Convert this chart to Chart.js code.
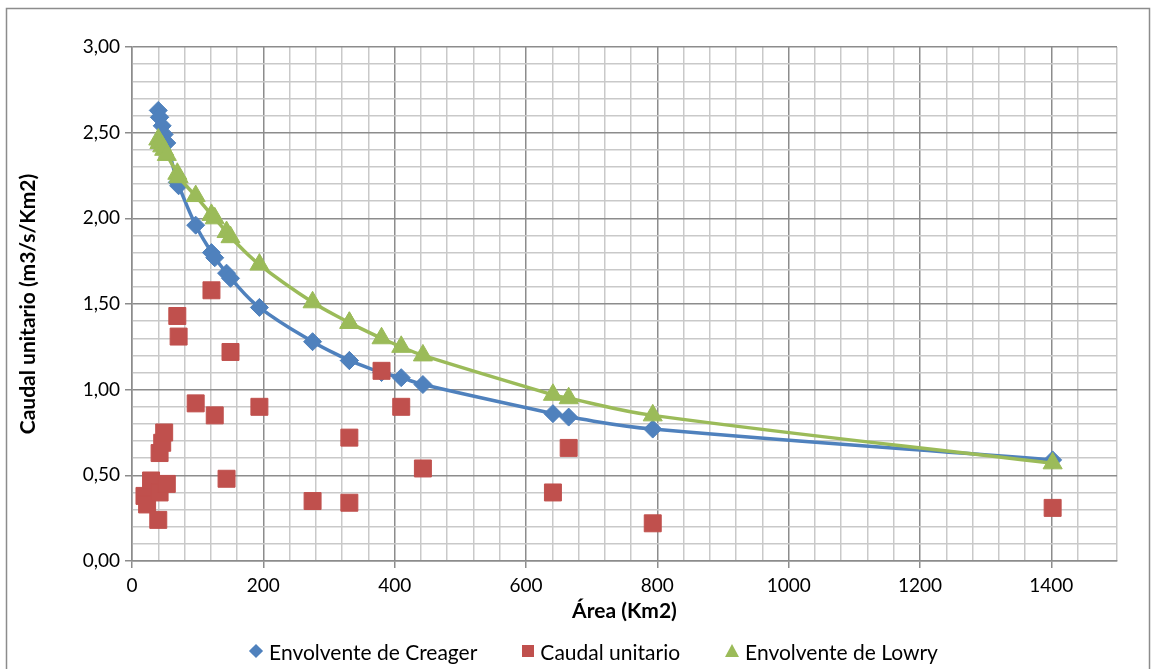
<!DOCTYPE html>
<html lang="es">
<head>
<meta charset="utf-8">
<title>Caudal unitario vs Área</title>
<script src="https://cdn.jsdelivr.net/npm/chart.js@4.4.1/dist/chart.umd.min.js"></script>
<style>
  html, body { margin: 0; padding: 0; background: #ffffff; }
  #marco { position: relative; width: 1157px; height: 669px; }
  #leyenda {
    position: absolute; left: 0; top: 639px; width: 1187px; height: 24px;
    display: flex; justify-content: center; align-items: center; gap: 45px;
    font-family: Lato, "Open Sans", sans-serif; font-size: 21px; color: #000;
  }
  .leyenda__elemento { display: flex; align-items: center; gap: 6px; white-space: nowrap; }
  .leyenda__diamante { width: 10px; height: 10px; transform: rotate(45deg); margin: 0 2px; }
  .leyenda__cuadro   { width: 12px; height: 12px; }
  .leyenda__triangulo {
    width: 0; height: 0; border-left: 7px solid transparent; border-right: 7px solid transparent;
    border-bottom: 13px solid; margin-top: -2px;
  }
</style>
</head>
<body>
<div id="marco">
  <canvas id="grafica" width="1157" height="669"></canvas>
  <div id="leyenda"></div>
</div>
<script>
/* ===== DATOS ===== */

// Cuencas: área (Km2) y caudal unitario observado (m3/s/Km2)
const AREAS_CUENCAS   = [19, 23, 29, 40, 42, 42, 46, 49, 53, 69, 71, 97, 121, 126, 144, 150, 194, 275, 331, 331, 380, 410, 443, 641, 665, 793, 1402];
const CAUDAL_UNITARIO = [0.38, 0.33, 0.47, 0.24, 0.63, 0.40, 0.69, 0.75, 0.45, 1.43, 1.31, 0.92, 1.58, 0.85, 0.48, 1.22, 0.90, 0.35, 0.34, 0.72, 1.11, 0.90, 0.54, 0.40, 0.66, 0.22, 0.31];

// Envolventes (las cuencas más pequeñas quedan fuera del gráfico)
const AREAS_ENVOLVENTES  = [40, 42, 42, 46, 49, 53, 69, 71, 97, 121, 126, 144, 150, 194, 275, 331, 331, 380, 410, 443, 641, 665, 793, 1402];
const ENVOLVENTE_CREAGER = [2.63, 2.59, 2.59, 2.54, 2.49, 2.44, 2.21, 2.19, 1.96, 1.80, 1.77, 1.68, 1.65, 1.48, 1.28, 1.17, 1.17, 1.10, 1.07, 1.03, 0.86, 0.84, 0.77, 0.59];
const ENVOLVENTE_LOWRY   = [2.46, 2.44, 2.44, 2.42, 2.40, 2.37, 2.26, 2.24, 2.13, 2.02, 2.00, 1.92, 1.89, 1.73, 1.51, 1.39, 1.39, 1.30, 1.25, 1.20, 0.97, 0.95, 0.85, 0.57];

// Etiquetas de los ejes (divisiones principales)
const ETIQUETAS_X = [0, 200, 400, 600, 800, 1000, 1200, 1400];
const ETIQUETAS_Y = [0, 0.5, 1, 1.5, 2, 2.5, 3];

/* ===== ESTILO ===== */

const COLOR_AZUL  = "#4F81BD";
const COLOR_ROJO  = "#C0504D";
const COLOR_VERDE = "#9BBB59";
const GRID_MAYOR  = "#8C8C8C";
const GRID_MENOR  = "#C9C9C9";
const FUENTE      = "Lato, 'Open Sans', sans-serif";

Chart.defaults.font.family = FUENTE;
Chart.defaults.color = "#000000";

function puntos(xs, ys) {
  return xs.map(function(x, i) { return { x: x, y: ys[i] }; });
}

function esMayorX(valor) {
  return ETIQUETAS_X.indexOf(Math.round(valor)) !== -1;
}

function esMayorY(valor) {
  return ETIQUETAS_Y.some(function(v) { return Math.abs(v - valor) < 1e-6; });
}

/* ===== BORDE EXTERIOR ===== */

const bordeExterior = {
  id: "bordeExterior",
  beforeDraw: function(chart) {
    const ctx = chart.ctx;
    ctx.save();
    ctx.fillStyle = "#ffffff";
    ctx.fillRect(0, 0, chart.width, chart.height);
    ctx.strokeStyle = "#8C8C8C";
    ctx.lineWidth = 1.5;
    ctx.strokeRect(6.5, 8.5, 1143, 700);
    ctx.restore();
  },
};

/* ===== GRÁFICA ===== */

const grafica = new Chart(document.getElementById("grafica"), {
  type: "scatter",
  data: {
    datasets: [
      {
        label: "Envolvente de Creager",
        data: puntos(AREAS_ENVOLVENTES, ENVOLVENTE_CREAGER),
        showLine: true,
        tension: 0.4,
        borderColor: COLOR_AZUL,
        backgroundColor: COLOR_AZUL,
        borderWidth: 3.5,
        pointStyle: "rectRot",
        pointRadius: 9,
        pointBorderWidth: 1,
        order: 3,
      },
      {
        label: "Caudal unitario",
        data: puntos(AREAS_CUENCAS, CAUDAL_UNITARIO),
        borderColor: COLOR_ROJO,
        backgroundColor: COLOR_ROJO,
        pointStyle: "rect",
        pointRadius: 12,
        pointBorderWidth: 1,
        order: 2,
      },
      {
        label: "Envolvente de Lowry",
        data: puntos(AREAS_ENVOLVENTES, ENVOLVENTE_LOWRY),
        showLine: true,
        tension: 0.4,
        borderColor: COLOR_VERDE,
        backgroundColor: COLOR_VERDE,
        borderWidth: 3.5,
        pointStyle: "triangle",
        pointRadius: 11,
        pointBorderWidth: 1,
        order: 1,
      },
    ],
  },
  options: {
    responsive: false,
    animation: false,
    devicePixelRatio: 1,
    layout: { padding: { top: 47, right: 40, left: 10, bottom: 39 } },
    plugins: {
      tooltip: { enabled: false },
      legend: { display: false },
    },
    scales: {
      x: {
        type: "linear",
        min: 0,
        max: 1500,
        afterFit: function(escala) { escala.height = 69; },
        ticks: {
          stepSize: 40,
          autoSkip: false,
          maxRotation: 0,
          padding: 6,
          font: { size: 19 },
          callback: function(valor) { return esMayorX(valor) ? String(Math.round(valor)) : ""; },
        },
        grid: {
          lineWidth: 1.5,
          tickLength: 7,
          color: function(c) { return c.tick && esMayorX(c.tick.value) ? GRID_MAYOR : GRID_MENOR; },
          tickColor: function(c) { return c.tick && esMayorX(c.tick.value) ? GRID_MAYOR : "rgba(0,0,0,0)"; },
        },
        border: { color: GRID_MAYOR, width: 1.5 },
        title: {
          display: true,
          text: "Área (Km2)",
          font: { size: 21, weight: "bold" },
          padding: { top: 0, bottom: 6 },
        },
      },
      y: {
        type: "linear",
        min: 0,
        max: 3,
        afterFit: function(escala) { escala.width = 122; },
        ticks: {
          stepSize: 0.1,
          autoSkip: false,
          padding: 5,
          font: { size: 19 },
          callback: function(valor) { return esMayorY(valor) ? valor.toFixed(2).replace(".", ",") : ""; },
        },
        grid: {
          lineWidth: 1.5,
          tickLength: 7,
          color: function(c) { return c.tick && esMayorY(c.tick.value) ? GRID_MAYOR : GRID_MENOR; },
          tickColor: function(c) { return c.tick && esMayorY(c.tick.value) ? GRID_MAYOR : "rgba(0,0,0,0)"; },
        },
        border: { color: GRID_MAYOR, width: 1.5 },
        title: {
          display: true,
          text: "Caudal unitario (m3/s/Km2)",
          font: { size: 21, weight: "bold" },
          padding: { top: 6, bottom: 0 },
        },
      },
    },
  },
  plugins: [bordeExterior],
});

/* ===== LEYENDA ===== */

const FORMAS_LEYENDA = { rectRot: "leyenda__diamante", rect: "leyenda__cuadro", triangle: "leyenda__triangulo" };

function generarLeyenda(chart) {
  const contenedor = document.getElementById("leyenda");
  chart.data.datasets.forEach(function(ds) {
    const elemento = document.createElement("div");
    elemento.className = "leyenda__elemento";

    const marca = document.createElement("span");
    marca.className = FORMAS_LEYENDA[ds.pointStyle];
    if (ds.pointStyle === "triangle") marca.style.borderBottomColor = ds.backgroundColor;
    else marca.style.backgroundColor = ds.backgroundColor;

    const texto = document.createElement("span");
    texto.textContent = ds.label;

    elemento.appendChild(marca);
    elemento.appendChild(texto);
    contenedor.appendChild(elemento);
  });
}

generarLeyenda(grafica);
</script>
</body>
</html>
